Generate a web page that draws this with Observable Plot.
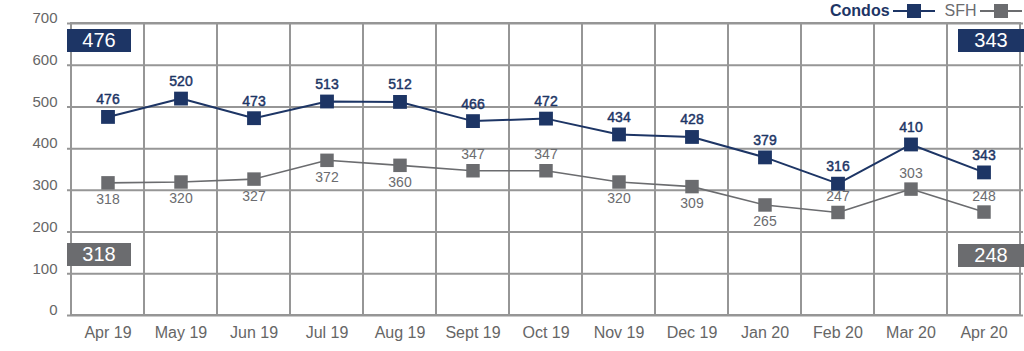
<!DOCTYPE html>
<html><head><meta charset="utf-8">
<script src="https://cdn.jsdelivr.net/npm/d3@7"></script>
<script src="https://cdn.jsdelivr.net/npm/@observablehq/plot@0.6"></script>
<style>
body{margin:0;background:#fff;font-family:"Liberation Sans",Arial,sans-serif;}
#wrap{position:relative;width:1024px;height:351px;overflow:hidden;background:#fff}
.box{position:absolute;color:#fff;font-size:20px;line-height:23px;height:23px;text-align:center;}
#legend{position:absolute;top:0;left:830px;height:21px;display:flex;align-items:center;white-space:nowrap}
#legend span{display:inline-block}
</style></head><body><div id="wrap"></div><script>
const months = ["Apr 19","May 19","Jun 19","Jul 19","Aug 19","Sept 19","Oct 19","Nov 19","Dec 19","Jan 20","Feb 20","Mar 20","Apr 20"];
const condos = [476,520,473,513,512,466,472,434,428,379,316,410,343];
const sfh = [318,320,327,372,360,347,347,320,309,265,247,303,248];
const sfhLabelSide = ["below","below","below","below","below","above","above","below","below","below","above","above","above"];
const yTicks = [0,100,200,300,400,500,600,700];
const seriesNames = ["Condos","SFH"];

const navy = "#1d3565", gray = "#6b6c6f", grid = "#969696", axisText = "#666";
const font = "'Liberation Sans', Arial, sans-serif";

const condoData = months.map((m,i)=>({month:m, value:condos[i]}));
const sfhData = months.map((m,i)=>({month:m, value:sfh[i], side:sfhLabelSide[i]}));

const chart = Plot.plot({
  width:1024, height:351,
  marginLeft:67, marginRight:1, marginTop:23, marginBottom:36,
  style:{fontFamily:font, background:"#fff", overflow:"visible"},
  x:{type:"band", domain:months, padding:0, label:null},
  y:{domain:[0,700], label:null},
  marks:[
    Plot.cell(months, {x:d=>d, fill:"none", stroke:grid, strokeWidth:2}),
    Plot.ruleY(yTicks, {stroke:grid, strokeWidth:2}),
    Plot.axisY(yTicks, {tickSize:0, tickPadding:10, fontSize:15, fill:axisText, dy:-5, label:null}),
    Plot.axisX({tickSize:0, tickPadding:11, fontSize:16, fill:axisText, label:null}),
    Plot.line(sfhData, {x:"month", y:"value", stroke:gray, strokeWidth:1.6}),
    Plot.line(condoData, {x:"month", y:"value", stroke:navy, strokeWidth:2}),
    Plot.dot(sfhData, {x:"month", y:"value", symbol:"square", r:7.6, fill:gray}),
    Plot.dot(condoData, {x:"month", y:"value", symbol:"square", r:7.8, fill:navy}),
    Plot.text(condoData, {x:"month", y:"value", text:d=>String(d.value), dy:-17, fill:navy, stroke:navy, strokeWidth:0.45, fontSize:14}),
    Plot.text(sfhData.filter(d=>d.side==="below"), {x:"month", y:"value", text:d=>String(d.value), dy:17, fill:gray, fontSize:14}),
    Plot.text(sfhData.filter(d=>d.side==="above"), {x:"month", y:"value", text:d=>String(d.value), dy:-16, fill:gray, fontSize:14})
  ]
});
const wrap = document.getElementById("wrap");
wrap.appendChild(chart);

// corner value boxes
function box(value, color, left, top, width){
  const d = document.createElement("div");
  d.className = "box";
  d.style.background = color;
  d.style.left = left + "px"; d.style.top = top + "px"; d.style.width = width + "px";
  d.textContent = String(value);
  wrap.appendChild(d);
}
box(condos[0], navy, 67, 29, 64);
box(sfh[0], gray, 67, 243, 64);
box(condos[condos.length-1], navy, 958, 29, 66);
box(sfh[sfh.length-1], gray, 958, 244, 66);

// legend
const lg = document.createElement("div");
lg.id = "legend";
function sym(color, w){
  return `<svg width="${w}" height="16" style="display:block"><line x1="0" x2="${w}" y1="8" y2="8" stroke="${color}" stroke-width="2"/><rect x="${w/2-7}" y="1" width="14" height="14" fill="${color}"/></svg>`;
}
lg.innerHTML =
  `<span style="color:${navy};font-size:16px;font-weight:bold;">${seriesNames[0]}</span>` +
  `<span style="margin-left:3px">${sym(navy,42)}</span>` +
  `<span style="color:${gray};font-size:16px;margin-left:10px">${seriesNames[1]}</span>` +
  `<span style="margin-left:3px">${sym(gray,42)}</span>`;
wrap.appendChild(lg);
</script></body></html>
